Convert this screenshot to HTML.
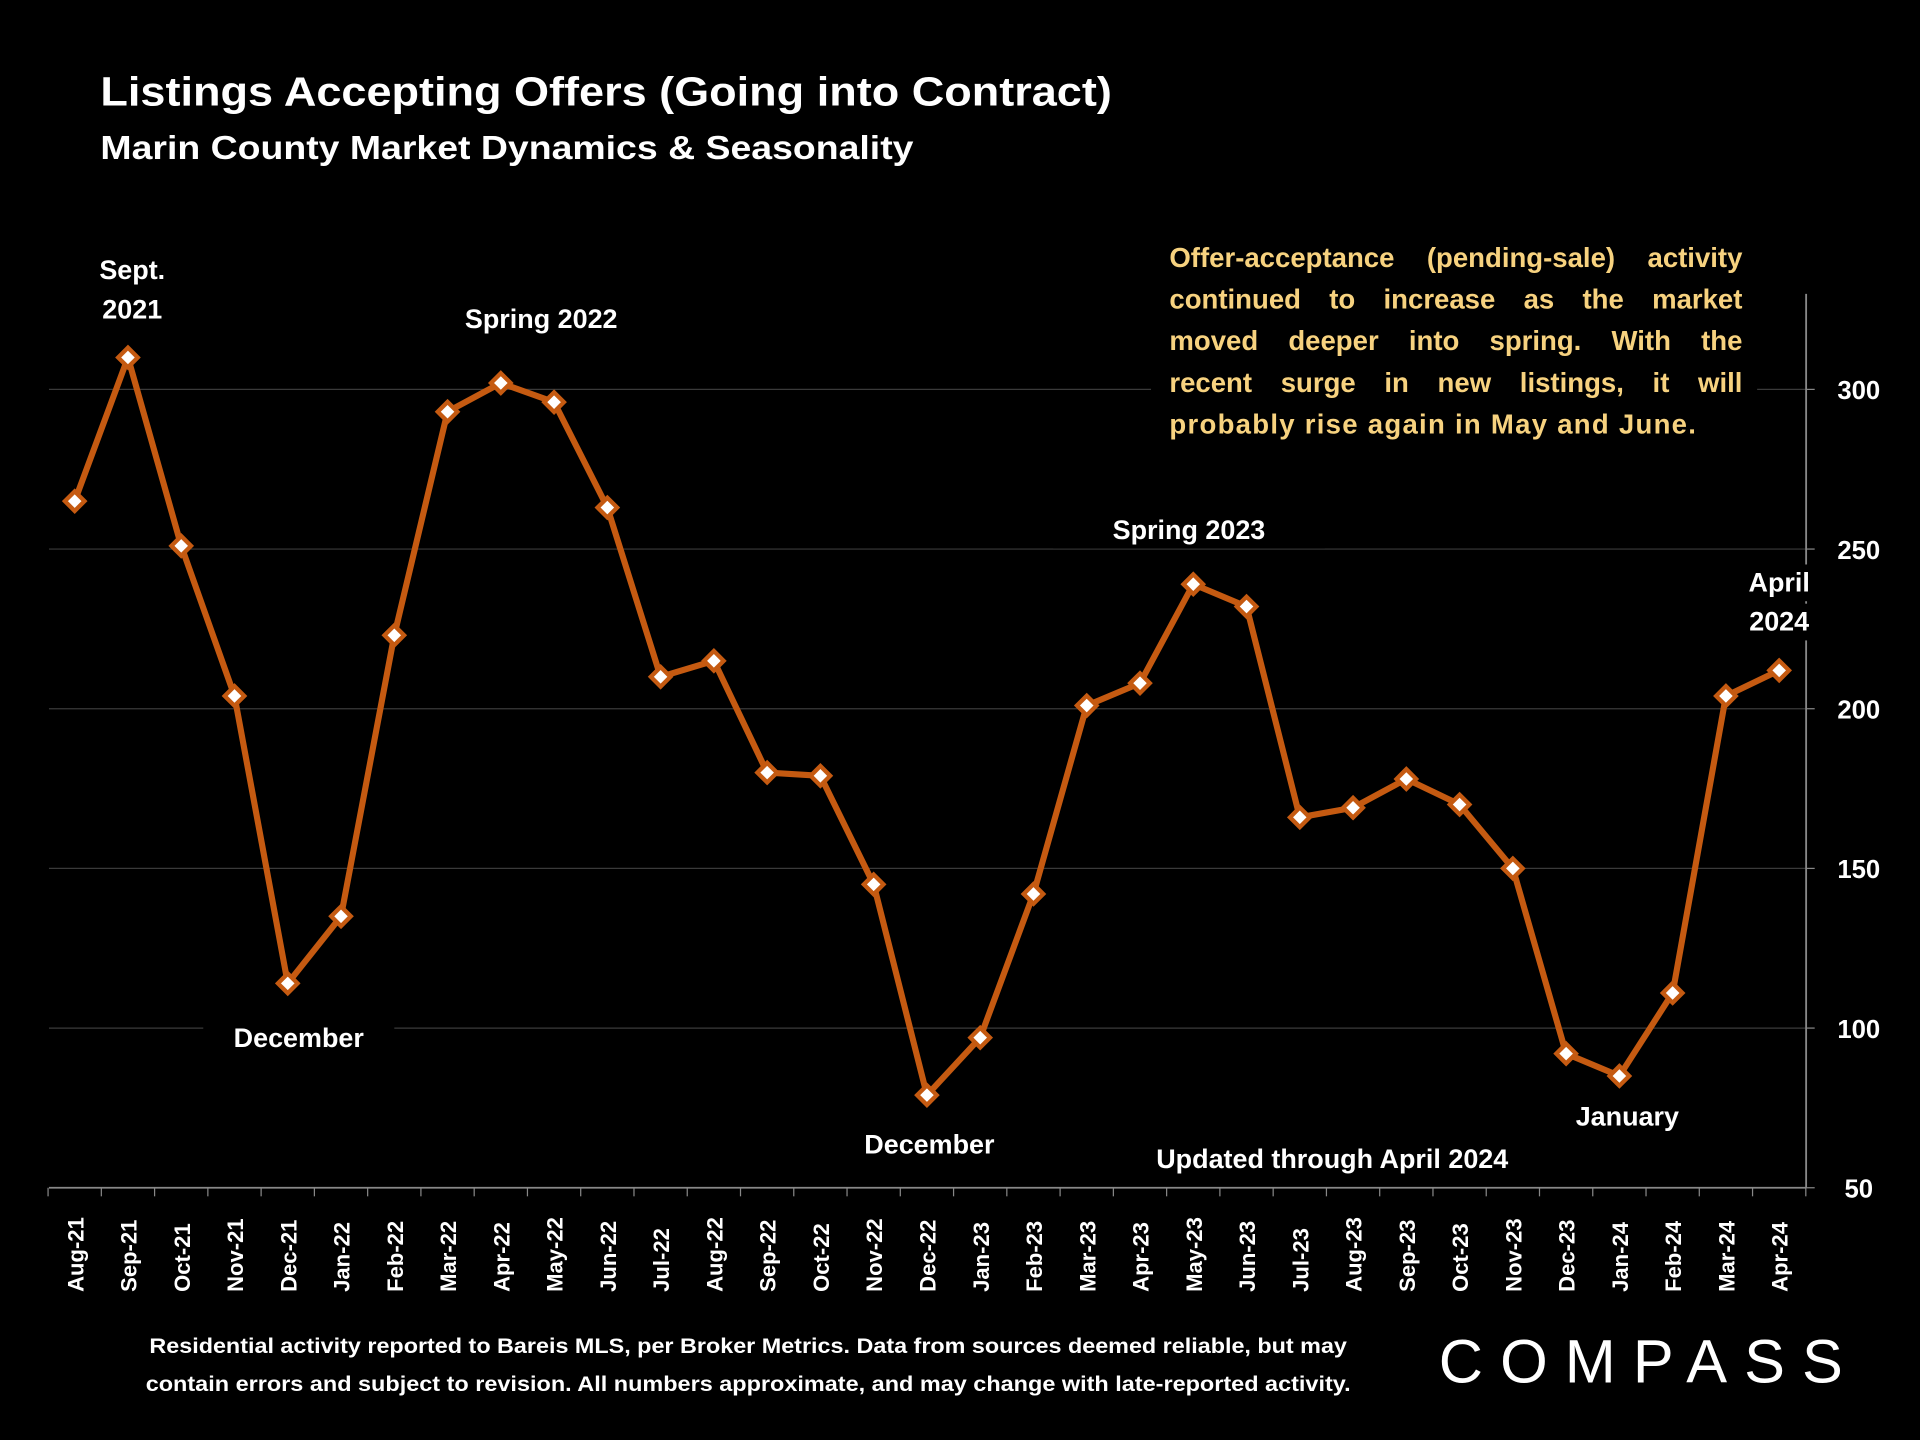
<!DOCTYPE html>
<html><head><meta charset="utf-8"><style>
html,body{margin:0;padding:0;background:#000;}
svg{display:block;}
text{font-family:"Liberation Sans",sans-serif;font-weight:bold;fill:#fff;}
</style></head><body>
<svg id="chart" width="1920" height="1440" viewBox="0 0 1568 1176" xmlns="http://www.w3.org/2000/svg">
<rect width="1568" height="1176" fill="#000"/>
<text x="82" y="86" font-size="33" textLength="826" lengthAdjust="spacingAndGlyphs">Listings Accepting Offers (Going into Contract)</text>
<text x="82" y="130" font-size="27" textLength="664" lengthAdjust="spacingAndGlyphs">Marin County Market Dynamics &amp; Seasonality</text>
<g id="grid"></g>
<g id="axes"></g>
<g id="series"></g>
<g id="labels"></g>
<g font-size="22.5">
<rect x="940" y="190" width="495" height="180" fill="#000"/>
<text class="just" x="955" y="218" style="fill:#f7d27f">Offer-acceptance (pending-sale) activity</text>
<text class="just" x="955" y="252" style="fill:#f7d27f">continued to increase as the market</text>
<text class="just" x="955" y="286" style="fill:#f7d27f">moved deeper into spring. With the</text>
<text class="just" x="955" y="320" style="fill:#f7d27f">recent surge in new listings, it will</text>
<text x="955" y="354" style="fill:#f7d27f" textLength="430" lengthAdjust="spacing">probably rise again in May and June.</text>
</g>
<text x="122" y="1105" font-size="17.5" textLength="978" lengthAdjust="spacingAndGlyphs">Residential activity reported to Bareis MLS, per Broker Metrics. Data from sources deemed reliable, but may</text>
<text x="119" y="1136" font-size="17.5" textLength="984" lengthAdjust="spacingAndGlyphs">contain errors and subject to revision. All numbers approximate, and may change with late-reported activity.</text>
<text x="1175" y="1129" font-size="50" textLength="330" lengthAdjust="spacing" style="font-weight:normal">COMPASS</text>
</svg>
<script>
const categories=["Aug-21","Sep-21","Oct-21","Nov-21","Dec-21","Jan-22","Feb-22","Mar-22","Apr-22","May-22","Jun-22","Jul-22","Aug-22","Sep-22","Oct-22","Nov-22","Dec-22","Jan-23","Feb-23","Mar-23","Apr-23","May-23","Jun-23","Jul-23","Aug-23","Sep-23","Oct-23","Nov-23","Dec-23","Jan-24","Feb-24","Mar-24","Apr-24"];
const values=[265,310,251,204,114,135,223,293,302,296,263,210,215,180,179,145,79,97,142,201,208,239,232,166,169,178,170,150,92,85,111,204,212];
const yTicks=[50,100,150,200,250,300];
const NS="http://www.w3.org/2000/svg";
function xs(i){return 61+i*(1453-61)/(categories.length-1);}
function ys(v){return 970-(v-50)*(970-318)/250;}
function mk(tag,attrs,parent){const e=document.createElementNS(NS,tag);for(const k in attrs)e.setAttribute(k,attrs[k]);parent.appendChild(e);return e;}
document.querySelectorAll('text.just').forEach(t=>{const w=t.getComputedTextLength();const n=(t.textContent.match(/ /g)||[]).length;if(n)t.setAttribute('word-spacing',(468-w)/n);});
const grid=document.getElementById('grid'),axes=document.getElementById('axes'),ser=document.getElementById('series'),lab=document.getElementById('labels');
yTicks.forEach(t=>{if(t===50)return;
const g=mk('line',{x1:40,x2:1475,y1:ys(t),y2:ys(t),stroke:'#3a3a3a','stroke-width':1},grid);

});
yTicks.forEach(t=>{
const tk=mk('line',{x1:1475,x2:1482,y1:ys(t),y2:ys(t),stroke:'#888'},axes);


const tx=mk('text',{x:1518,y:ys(t)+8,'font-size':21,'text-anchor':'middle'},axes);tx.textContent=t;

});
const xa=mk('line',{x1:40,x2:1475,y1:970,y2:970,stroke:'#888','stroke-width':1.5},axes);


const ya=mk('line',{x1:1475,x2:1475,y1:240,y2:970,stroke:'#888','stroke-width':1.5},axes);


const step=(1453-61)/(categories.length-1);
for(let i=0;i<=categories.length;i++){const x=61-step/2+i*step;
const t=mk('line',{x1:x,x2:x,y1:970,y2:977,stroke:'#888'},axes);

}
categories.forEach((c,i)=>{const x=xs(i)+7,y=1055;
const t=mk('text',{x:x,y:y,'font-size':18,transform:'rotate(-90 '+x+' '+y+')'},axes);t.textContent=c;

});
const pl=mk('polyline',{points:values.map((v,i)=>xs(i)+','+ys(v)).join(' '),fill:'none',stroke:'#c55a11','stroke-width':5,'stroke-linejoin':'round'},ser);


values.forEach((v,i)=>{const x=xs(i),y=ys(v),r=8;
const d=mk('polygon',{points:`${x},${y-r} ${x+r},${y} ${x},${y+r} ${x-r},${y}`,fill:'#fff',stroke:'#c55a11','stroke-width':3.5},ser);

});
const anns=[["Sept.",108,228,60],["2021",108,260,60],["Spring 2022",442,268,150],["December",244,855,156],["December",759,942,130],["Spring 2023",971,440,222],["Updated through April 2024",1088,954,320],["January",1329,919,110],["April",1453,483,60],["2024",1453,515,60]];
anns.forEach(a=>{const bg=mk('rect',{x:a[1]-a[3]/2,y:a[2]-22,width:a[3],height:30,fill:'#000'},lab);


const t=mk('text',{x:a[1],y:a[2],'font-size':22,'text-anchor':'middle'},lab);t.textContent=a[0];

});
</script>
</body></html>
